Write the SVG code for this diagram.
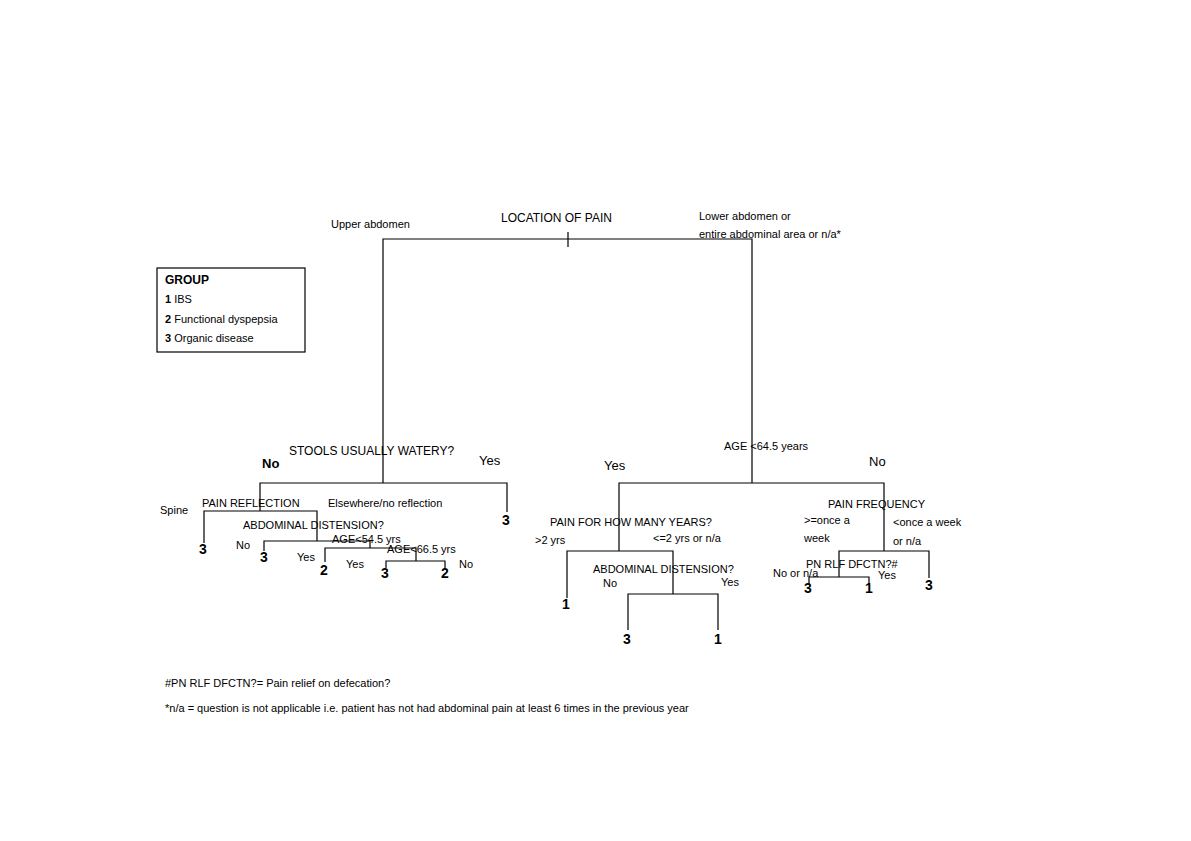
<svg xmlns="http://www.w3.org/2000/svg" width="1191" height="841" viewBox="0 0 1191 841">
<style>
text{font-family:"Liberation Sans",Arial,sans-serif;font-size:11px;fill:#000}
.l{font-size:12px}
.b{font-size:14px;font-weight:bold;text-anchor:middle}
.yn{font-size:13px}
.c path{fill:none;stroke:#000;stroke-width:1.2}
</style>
<rect width="1191" height="841" fill="#fff"/>
<g class="c" id="connectors">
<path d="M383 483V239H752V483M568 232V247"/>
<path d="M260 511V483H507V512"/>
<path d="M204 543V511H317V541"/>
<path d="M264 551V541H370V548"/>
<path d="M325 562V548H416V561"/>
<path d="M386 568V561H445V568"/>
<path d="M619 551V483H884V551"/>
<path d="M567 598V551H673V594"/>
<path d="M628 630V594H718V630"/>
<path d="M839 577V551H929V578"/>
<path d="M809 584V577H869V584"/>
</g>
<g id="legend">
<rect x="157" y="268" width="148" height="84" fill="none" stroke="#000" stroke-width="1.2"/>
<text x="165" y="284" font-weight="bold" class="l">GROUP</text>
<text x="165" y="303"><tspan font-weight="bold">1</tspan> IBS</text>
<text x="165" y="323"><tspan font-weight="bold">2</tspan> Functional dyspepsia</text>
<text x="165" y="342"><tspan font-weight="bold">3</tspan> Organic disease</text>
</g>
<g id="root">
<text x="501" y="222" class="l">LOCATION OF PAIN</text>
<text x="331" y="228">Upper abdomen</text>
<text x="699" y="220">Lower abdomen or</text>
<text x="699" y="238">entire abdominal area or n/a*</text>
</g>
<g id="stools">
<text x="289" y="455" class="l">STOOLS USUALLY WATERY?</text>
<text x="262" y="468" class="yn" font-weight="bold">No</text>
<text x="479" y="465" class="yn">Yes</text>
</g>
<g id="reflection">
<text x="160" y="514">Spine</text>
<text x="202" y="507">PAIN REFLECTION</text>
<text x="328" y="507">Elsewhere/no reflection</text>
</g>
<g id="distension1">
<text x="243" y="529">ABDOMINAL DISTENSION?</text>
<text x="236" y="549">No</text>
<text x="297" y="561">Yes</text>
</g>
<g id="age545"><text x="332" y="543">AGE&lt;54.5 yrs</text><text x="346" y="568">Yes</text></g>
<g id="age665"><text x="387" y="553">AGE&lt;66.5 yrs</text><text x="459" y="568">No</text></g>
<g id="leaves">
<text x="506" y="525" class="b">3</text>
<text x="203" y="554" class="b">3</text>
<text x="264" y="562" class="b">3</text>
<text x="324" y="575" class="b">2</text>
<text x="385" y="578" class="b">3</text>
<text x="445" y="578" class="b">2</text>
<text x="566" y="609" class="b">1</text>
<text x="627" y="644" class="b">3</text>
<text x="718" y="644" class="b">1</text>
<text x="808" y="593" class="b">3</text>
<text x="869" y="593" class="b">1</text>
<text x="929" y="590" class="b">3</text>
</g>
<g id="age645">
<text x="724" y="450">AGE  &lt;64.5 years</text>
<text x="604" y="470" class="yn">Yes</text>
<text x="869" y="466" class="yn">No</text>
</g>
<g id="years">
<text x="550" y="526">PAIN FOR HOW MANY YEARS?</text>
<text x="535" y="544">&gt;2 yrs</text>
<text x="653" y="542">&lt;=2 yrs or n/a</text>
</g>
<g id="distension2">
<text x="593" y="573">ABDOMINAL DISTENSION?</text>
<text x="603" y="587">No</text>
<text x="721" y="586">Yes</text>
</g>
<g id="frequency">
<text x="828" y="508">PAIN FREQUENCY</text>
<text x="804" y="524">&gt;=once a</text>
<text x="804" y="542">week</text>
<text x="893" y="526">&lt;once a week</text>
<text x="893" y="545">or n/a</text>
</g>
<g id="pnrlf">
<text x="806" y="568">PN RLF DFCTN?#</text>
<text x="773" y="577">No or n/a</text>
<text x="878" y="579">Yes</text>
</g>
<g id="notes">
<text x="165" y="687">#PN RLF DFCTN?= Pain relief on defecation?</text>
<text x="165" y="712">*n/a = question is not applicable i.e. patient has not had abdominal pain at least 6 times in the previous year</text>
</g>
</svg>
